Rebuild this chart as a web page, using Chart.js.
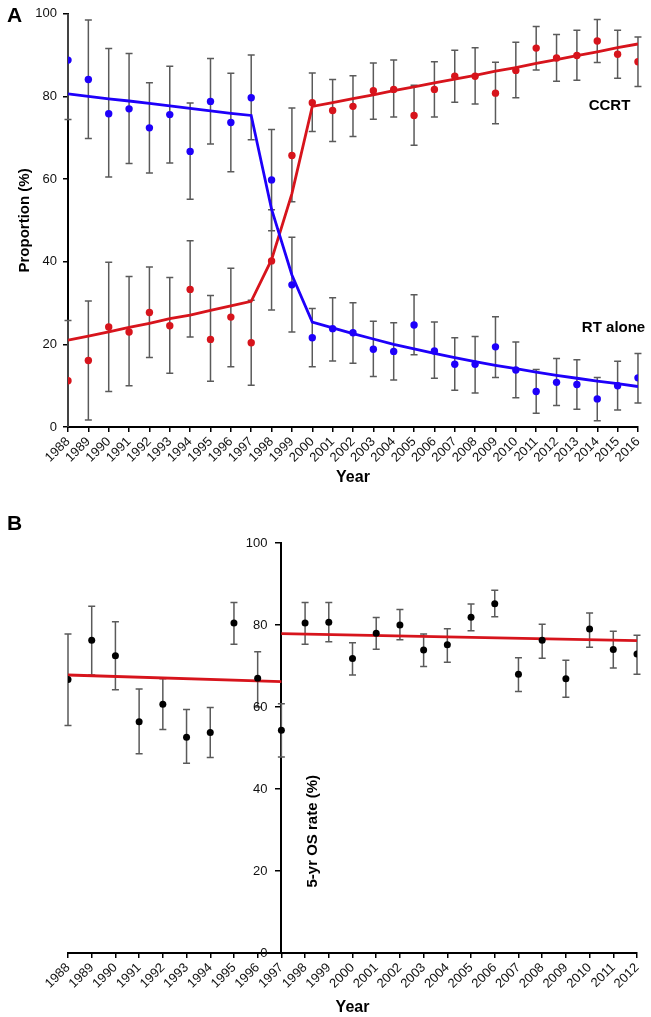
<!DOCTYPE html>
<html>
<head>
<meta charset="utf-8">
<script src="https://cdn.jsdelivr.net/npm/chart.js@4.4.0/dist/chart.umd.min.js"></script>
<style>
  body { margin: 0; background: #fff; }
  #wrap { position: relative; width: 651px; height: 1017px; }
  canvas { position: absolute; left: 0; }
  .tag { position: absolute; font: bold 21px "Liberation Sans", Arial, sans-serif; line-height: 1; color: #000; }
</style>
</head>
<body>
<div id="wrap">
  <canvas id="chartA" width="651" height="500" style="top:0"></canvas>
  <canvas id="chartB" width="651" height="517" style="top:500px"></canvas>
  <div class="tag" style="left:7px;top:4px">A</div>
  <div class="tag" style="left:7px;top:512px">B</div>
</div>
<script>
// ---- panel A data ----
let yearsA = [1988, 1989, 1990, 1991, 1992, 1993, 1994, 1995, 1996, 1997, 1998, 1999, 2000, 2001, 2002,
              2003, 2004, 2005, 2006, 2007, 2008, 2009, 2010, 2011, 2012, 2013, 2014, 2015, 2016];

let rtAlone   = [88.8, 84.1, 75.8, 77.0, 72.4, 75.6, 66.7, 78.8, 73.7, 79.7, 59.8, 34.4, 21.6, 23.8, 22.8,
                 18.8, 18.3, 24.7, 18.4, 15.2, 15.2, 19.4, 13.8, 8.6, 10.8, 10.3, 6.8, 10.0, 11.9];
let rtAloneHi = [103.2, 98.5, 91.6, 90.4, 83.3, 87.3, 78.4, 89.2, 85.6, 90.0, 72.0, 45.9, 28.7, 31.3, 30.1,
                 25.6, 25.2, 32.0, 25.4, 21.6, 21.9, 26.7, 20.6, 13.9, 16.6, 16.3, 12.0, 15.9, 17.8];
let rtAloneLo = [74.4, 69.8, 60.5, 63.8, 61.5, 63.9, 55.1, 68.5, 61.8, 69.5, 47.5, 23.0, 14.6, 16.0, 15.4,
                 12.2, 11.4, 17.5, 11.8, 8.9, 8.2, 12.0, 7.1, 3.3, 5.2, 4.3, 1.5, 4.1, 5.8];
let rtAloneFit = [80.6, 80.0, 79.4, 78.9, 78.3, 77.7, 77.1, 76.5, 75.9, 75.4, 52.7, 36.8, 25.4, 24.0, 22.6,
                  21.3, 20.0, 18.9, 17.8, 16.8, 15.8, 14.9, 14.1, 13.3, 12.5, 11.8, 11.1, 10.5, 9.8];

let ccrt   = [11.2, 16.1, 24.2, 23.0, 27.7, 24.5, 33.3, 21.2, 26.6, 20.4, 40.2, 65.7, 78.5, 76.6, 77.6,
              81.4, 81.7, 75.4, 81.7, 84.9, 84.9, 80.8, 86.3, 91.7, 89.3, 89.9, 93.4, 90.2, 88.4];
let ccrtHi = [25.8, 30.5, 39.9, 36.4, 38.7, 36.2, 45.1, 31.8, 38.4, 30.7, 52.6, 77.2, 85.7, 84.1, 85.0,
              88.1, 88.8, 82.7, 88.4, 91.2, 91.8, 88.3, 93.1, 96.9, 95.0, 96.0, 98.6, 96.0, 94.4];
let ccrtLo = [-3.4, 1.7, 8.6, 10.0, 16.8, 13.0, 21.8, 11.1, 14.6, 10.1, 28.3, 54.5, 71.5, 69.1, 70.3,
              74.5, 75.0, 68.2, 75.0, 78.6, 78.2, 73.4, 79.7, 86.4, 83.7, 83.9, 88.2, 84.4, 82.4];
let ccrtFit = [21.0, 22.0, 23.0, 24.1, 25.1, 26.2, 27.1, 28.2, 29.3, 30.4, 40.5, 56.5, 77.6, 78.5, 79.5,
               80.4, 81.4, 82.3, 83.3, 84.2, 85.1, 86.1, 87.0, 88.0, 88.9, 89.9, 90.8, 91.8, 92.7];

// ---- panel B data ----
let yearsB = [1988, 1989, 1990, 1991, 1992, 1993, 1994, 1995, 1996, 1997, 1998, 1999, 2000,
              2001, 2002, 2003, 2004, 2005, 2006, 2007, 2008, 2009, 2010, 2011, 2012];
let os5   = [66.7, 76.3, 72.5, 56.4, 60.7, 52.6, 53.8, 80.5, 67.0, 54.3, 80.5, 80.7, 71.8,
             78.0, 80.0, 73.9, 75.2, 81.9, 85.2, 68.0, 76.3, 66.9, 79.0, 74.0, 72.9];
let os5Hi = [77.8, 84.6, 80.8, 64.4, 66.9, 59.4, 59.9, 85.5, 73.5, 60.8, 85.5, 85.5, 75.7,
             81.8, 83.8, 77.8, 79.1, 85.1, 88.5, 72.0, 80.2, 71.4, 82.9, 78.5, 77.5];
let os5Lo = [55.5, 67.8, 64.2, 48.6, 54.5, 46.3, 47.7, 75.3, 60.0, 47.8, 75.3, 75.9, 67.8,
             74.1, 76.4, 69.9, 70.9, 78.6, 82.0, 63.8, 71.9, 62.4, 74.6, 69.5, 68.0];
let fitEarlyX = [1988, 1997];
let fitEarlyY = [67.8, 66.2];
let fitLateX = [1997, 2012];
let fitLateY = [77.9, 76.2];
let axisYearB = 1997;

let blue = 'rgb(30, 0, 250)';
let red = 'rgb(215, 20, 28)';
let font = '"Liberation Sans", Arial, sans-serif';

function pts(xs, ys) {
    return xs.map((x, i) => ({ x: x, y: ys[i] }));
}

// error bars drawn under the dots, through the chart's own scales
function errorBars(sets) {
    return {
        id: 'errorBars',
        beforeDatasetsDraw(chart) {
            let ctx = chart.ctx;
            let x = chart.scales.x, y = chart.scales.y;
            let area = chart.chartArea;
            ctx.save();
            ctx.beginPath();
            ctx.rect(area.left - 6, area.top, area.right - area.left + 12, area.bottom - area.top);
            ctx.clip();
            ctx.strokeStyle = '#5a5a5a';
            ctx.lineWidth = 1.5;
            sets.forEach(s => {
                s.x.forEach((xv, i) => {
                    let px = x.getPixelForValue(xv);
                    let top = y.getPixelForValue(s.hi[i]);
                    let bot = y.getPixelForValue(s.lo[i]);
                    ctx.beginPath();
                    ctx.moveTo(px, top); ctx.lineTo(px, bot);
                    ctx.moveTo(px - 3.5, top); ctx.lineTo(px + 3.5, top);
                    ctx.moveTo(px - 3.5, bot); ctx.lineTo(px + 3.5, bot);
                    ctx.stroke();
                });
            });
            ctx.restore();
        }
    };
}

// text placed at data coordinates
function notes(items) {
    return {
        id: 'notes',
        afterDatasetsDraw(chart) {
            let ctx = chart.ctx;
            ctx.save();
            ctx.fillStyle = '#000';
            items.forEach(n => {
                let px = chart.scales.x.getPixelForValue(n.x) + (n.dx || 0);
                let py = chart.scales.y.getPixelForValue(n.y);
                ctx.save();
                ctx.translate(px, py);
                ctx.rotate(n.rot || 0);
                ctx.font = 'bold 15px ' + font;
                ctx.textAlign = 'center';
                ctx.textBaseline = 'middle';
                ctx.fillText(n.text, 0, 0);
                ctx.restore();
            });
            ctx.restore();
        }
    };
}

// y tick labels for an axis that sits inside the plot (chart.js puts them flush on the line)
function midAxisLabels(atX, gap) {
    return {
        id: 'midAxisLabels',
        afterDraw(chart) {
            let ctx = chart.ctx;
            let y = chart.scales.y;
            let px = chart.scales.x.getPixelForValue(atX) - gap;
            ctx.save();
            ctx.font = '13px ' + font;
            ctx.fillStyle = '#111';
            ctx.textAlign = 'right';
            ctx.textBaseline = 'middle';
            y.ticks.forEach(t => {
                ctx.fillText(String(t.value), px, y.getPixelForValue(t.value));
            });
            ctx.restore();
        }
    };
}

function axisGrid() {
    return { display: true, drawOnChartArea: false, drawTicks: true, tickLength: 5, color: '#000', lineWidth: 1.5 };
}

let tickFont = { family: font, size: 13 };

// ---- chart A ----
new Chart(document.getElementById('chartA'), {
    type: 'scatter',
    data: {
        datasets: [
            { data: pts(yearsA, rtAlone), backgroundColor: blue, borderColor: blue, pointRadius: 3.7, borderWidth: 0 },
            { data: pts(yearsA, ccrt), backgroundColor: red, borderColor: red, pointRadius: 3.7, borderWidth: 0 },
            { type: 'line', data: pts(yearsA, rtAloneFit), borderColor: blue, borderWidth: 2.8, pointRadius: 0, fill: false, tension: 0 },
            { type: 'line', data: pts(yearsA, ccrtFit), borderColor: red, borderWidth: 2.8, pointRadius: 0, fill: false, tension: 0 }
        ]
    },
    options: {
        responsive: false,
        animation: false,
        layout: { padding: { left: 0, right: 10, top: 9, bottom: 0 } },
        plugins: { legend: { display: false }, tooltip: { enabled: false } },
        scales: {
            x: {
                type: 'linear', min: 1988, max: 2016,
                afterFit: s => { s.height = 73; },
                border: { color: '#000', width: 2 },
                grid: axisGrid(),
                ticks: { stepSize: 1, autoSkip: false, maxRotation: 45, minRotation: 45, color: '#111', font: tickFont, padding: 2,
                         callback: v => String(v) },
                title: { display: true, text: 'Year', color: '#000', font: { family: font, size: 16, weight: 'bold' }, padding: { top: 0, bottom: 13 } }
            },
            y: {
                min: 0, max: 100,
                afterFit: s => { s.width = 68; },
                border: { color: '#000', width: 2 },
                grid: axisGrid(),
                ticks: { stepSize: 20, color: '#111', font: tickFont, padding: 6 },
                title: { display: true, text: 'Proportion (%)', color: '#000', font: { family: font, size: 15, weight: 'bold' }, padding: { top: 16, bottom: 0 } }
            }
        }
    },
    plugins: [
        errorBars([
            { x: yearsA, hi: rtAloneHi, lo: rtAloneLo },
            { x: yearsA, hi: ccrtHi, lo: ccrtLo }
        ]),
        notes([
            { text: 'CCRT', x: 2014.6, y: 77.8 },
            { text: 'RT alone', x: 2014.8, y: 24.0 }
        ])
    ]
});

// ---- chart B ----
new Chart(document.getElementById('chartB'), {
    type: 'scatter',
    data: {
        datasets: [
            { data: pts(yearsB, os5), backgroundColor: '#000', borderColor: '#000', pointRadius: 3.5, borderWidth: 0 },
            { type: 'line', data: pts(fitEarlyX, fitEarlyY), borderColor: red, borderWidth: 2.8, pointRadius: 0, fill: false },
            { type: 'line', data: pts(fitLateX, fitLateY), borderColor: red, borderWidth: 2.8, pointRadius: 0, fill: false }
        ]
    },
    options: {
        responsive: false,
        animation: false,
        layout: { padding: { left: 68, right: 14, top: 43, bottom: 0 } },
        plugins: { legend: { display: false }, tooltip: { enabled: false } },
        scales: {
            x: {
                type: 'linear', min: 1988, max: 2012,
                afterFit: s => { s.height = 64; },
                border: { color: '#000', width: 2 },
                grid: axisGrid(),
                ticks: { stepSize: 1, autoSkip: false, maxRotation: 45, minRotation: 45, color: '#111', font: tickFont, padding: 2,
                         callback: v => String(v) },
                title: { display: true, text: 'Year', color: '#000', font: { family: font, size: 16, weight: 'bold' }, padding: { top: 0, bottom: 0 } }
            },
            y: {
                min: 0, max: 100,
                position: { x: axisYearB },
                border: { color: '#000', width: 2 },
                grid: axisGrid(),
                ticks: { stepSize: 20, display: false },
                title: { display: false }
            }
        }
    },
    plugins: [
        errorBars([{ x: yearsB, hi: os5Hi, lo: os5Lo }]),
        midAxisLabels(axisYearB, 14),
        notes([{ text: '5-yr OS rate (%)', x: axisYearB, dx: 31, y: 29.7, rot: -Math.PI / 2 }])
    ]
});
</script>
</body>
</html>
